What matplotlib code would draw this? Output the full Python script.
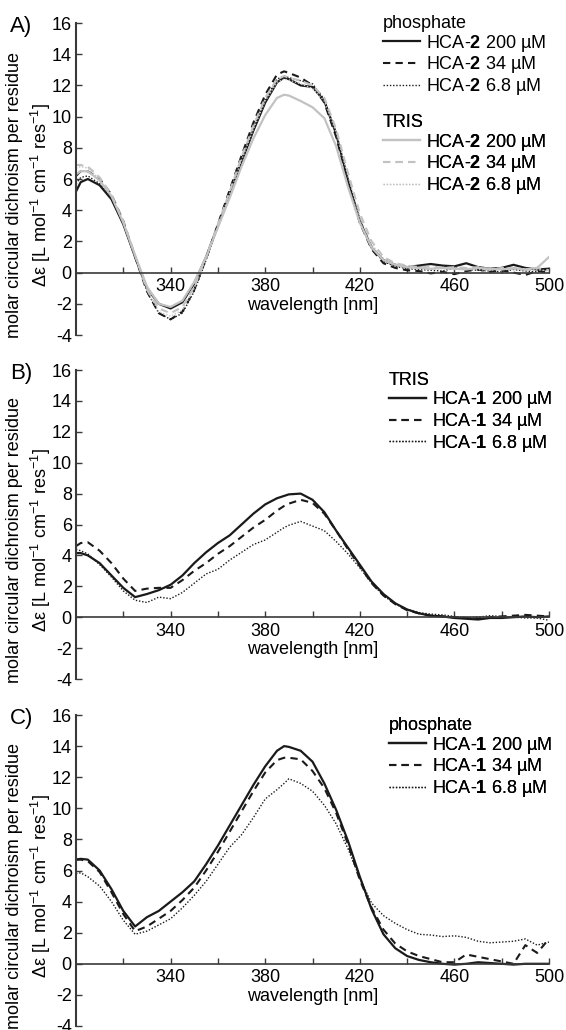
import matplotlib
matplotlib.use("Agg")
import matplotlib.pyplot as plt

plt.rcParams['font.family'] = ['Liberation Sans', 'DejaVu Sans']
plt.rcParams['mathtext.fontset'] = 'custom'
plt.rcParams['mathtext.rm'] = 'Liberation Sans'
plt.rcParams['mathtext.it'] = 'Liberation Sans:italic'
plt.rcParams['mathtext.bf'] = 'Liberation Sans:bold'
plt.rcParams['axes.unicode_minus'] = False

# ---------------- data ----------------
wavelength = [300, 302, 305, 310, 315, 320, 325, 330, 335, 340, 345, 350, 355, 360, 365,
              370, 375, 380, 385, 388, 390, 395, 400, 405, 410, 415, 420, 425, 430, 435,
              440, 445, 450, 455, 460, 465, 470, 475, 480, 485, 490, 495, 500]

# Panel A: HCA-2 in phosphate (black) and TRIS (grey)
a_phos_200 = [5.2, 5.8, 6.0, 5.6, 4.7, 3.1, 1.0, -1.0, -2.0, -2.3, -1.9, -0.7, 1.0, 3.0, 5.0,
              7.1, 9.1, 10.9, 12.2, 12.5, 12.4, 12.0, 11.9, 11.0, 8.9, 5.9, 3.3, 1.6, 0.8, 0.5,
              0.35, 0.45, 0.55, 0.45, 0.4, 0.6, 0.35, 0.25, 0.3, 0.5, 0.3, 0.2, 0.25]
a_phos_34 = [6.2, 6.5, 6.5, 6.0, 5.0, 3.3, 1.0, -1.2, -2.6, -3.0, -2.5, -1.1, 0.9, 3.1, 5.3,
             7.5, 9.6, 11.4, 12.7, 12.9, 12.8, 12.5, 12.0, 10.9, 8.7, 5.8, 3.2, 1.5, 0.6, 0.3,
             0.15, 0.1, -0.05, 0.05, -0.1, 0.1, 0.2, 0.05, 0.15, 0.0, -0.15, 0.1, 0.0]
a_phos_68 = [5.7, 6.1, 6.2, 5.7, 4.8, 3.2, 1.0, -1.2, -2.6, -3.0, -2.6, -1.2, 0.8, 3.0, 5.1,
             7.3, 9.3, 11.1, 12.4, 12.6, 12.5, 12.3, 12.1, 11.1, 8.9, 6.0, 3.4, 1.6, 0.7, 0.4,
             0.25, 0.2, 0.15, 0.1, 0.3, 0.2, 0.15, 0.1, 0.05, 0.2, 0.1, 0.05, 0.2]
a_tris_200 = [6.3, 6.5, 6.5, 5.9, 4.9, 3.2, 1.1, -0.9, -2.0, -2.2, -1.8, -0.6, 1.0, 2.9, 4.8,
              6.8, 8.6, 10.1, 11.2, 11.4, 11.35, 11.0, 10.6, 9.9, 8.1, 5.5, 3.2, 1.6, 0.8, 0.5,
              0.35, 0.3, 0.25, 0.3, 0.25, 0.2, 0.3, 0.25, 0.2, 0.3, 0.2, 0.3, 1.0]
a_tris_34 = [6.9, 6.9, 6.8, 6.1, 5.0, 3.3, 1.1, -1.1, -2.3, -2.6, -2.2, -0.9, 1.0, 3.1, 5.2,
             7.4, 9.4, 11.2, 12.4, 12.6, 12.5, 12.3, 12.0, 11.2, 9.2, 6.4, 3.8, 2.0, 1.0, 0.6,
             0.45, 0.35, 0.4, 0.3, 0.35, 0.3, 0.35, 0.2, 0.3, 0.25, 0.2, 0.3, 0.15]
a_tris_68 = [6.7, 6.8, 6.7, 6.0, 4.9, 3.2, 1.0, -1.1, -2.5, -2.8, -2.4, -1.0, 0.9, 3.0, 5.1,
             7.2, 9.2, 11.0, 12.2, 12.4, 12.35, 12.1, 11.8, 11.0, 9.0, 6.2, 3.6, 1.8, 0.9, 0.5,
             0.3, 0.25, 0.2, 0.25, 0.2, 0.3, 0.2, 0.15, 0.25, 0.2, 0.1, 0.2, 0.1]

# Panel B: HCA-1 in TRIS
b_200 = [4.15, 4.15, 4.0, 3.5, 2.7, 1.9, 1.3, 1.5, 1.75, 2.1, 2.7, 3.5, 4.2, 4.8, 5.3,
         6.0, 6.7, 7.3, 7.7, 7.85, 7.95, 8.0, 7.6, 6.8, 5.6, 4.5, 3.4, 2.3, 1.5, 0.9,
         0.5, 0.25, 0.1, 0.05, -0.05, -0.1, -0.15, -0.05, -0.05, 0.0, 0.05, 0.0, 0.05]
b_34 = [4.6, 4.8, 4.85, 4.3, 3.5, 2.5, 1.7, 1.85, 1.9, 1.9, 2.4, 3.0, 3.5, 4.1, 4.6,
        5.2, 5.8, 6.3, 6.9, 7.2, 7.35, 7.6, 7.4, 6.7, 5.6, 4.4, 3.3, 2.2, 1.4, 0.85,
        0.45, 0.25, 0.1, 0.05, 0.0, -0.05, -0.1, 0.0, 0.05, 0.1, 0.15, 0.1, 0.05]
b_68 = [4.4, 4.3, 4.1, 3.4, 2.6, 1.7, 1.1, 0.95, 1.3, 1.2, 1.6, 2.2, 2.8, 3.1, 3.7,
        4.2, 4.7, 5.0, 5.5, 5.8, 5.95, 6.2, 5.9, 5.6, 4.9, 4.1, 3.2, 2.2, 1.4, 0.85,
        0.5, 0.3, 0.2, 0.15, 0.05, -0.05, 0.0, 0.1, 0.05, 0.0, -0.05, -0.05, -0.2]

# Panel C: HCA-1 in phosphate
c_200 = [6.7, 6.75, 6.7, 6.0, 4.8, 3.4, 2.4, 3.0, 3.4, 4.0, 4.6, 5.3, 6.4, 7.6, 8.9,
         10.2, 11.5, 12.7, 13.7, 14.0, 13.95, 13.7, 13.0, 11.6, 9.9, 7.9, 5.6, 3.5, 1.9, 1.0,
         0.5, 0.25, 0.1, 0.0, -0.05, 0.0, 0.1, 0.05, 0.0, -0.05, 0.0, 0.0, 0.0]
c_34 = [6.7, 6.7, 6.6, 5.9, 4.6, 3.2, 2.1, 2.4, 2.9, 3.4, 4.1, 4.9, 6.0, 7.2, 8.5,
        9.8, 11.1, 12.3, 13.1, 13.25, 13.25, 13.15, 12.4, 11.3, 9.7, 7.7, 5.4, 3.6, 2.2, 1.3,
        0.8, 0.5, 0.3, 0.1, 0.1, 0.6, 0.45, 0.3, 0.15, 0.0, 1.2, 0.7, 1.6]
c_68 = [5.8, 5.85, 5.6, 5.0, 4.0, 2.8, 1.9, 2.1, 2.5, 2.9, 3.6, 4.4, 5.3, 6.4, 7.5,
        8.3, 9.4, 10.6, 11.2, 11.6, 11.9, 11.6, 11.1, 10.2, 9.0, 7.4, 5.5, 3.9, 3.1, 2.6,
        2.2, 1.9, 1.85, 1.75, 1.8, 1.7, 1.45, 1.35, 1.4, 1.45, 1.6, 1.2, 1.4]

conc_labels = ["200 µM", "34 µM", "6.8 µM"]
x_major = [340, 380, 420, 460, 500]
x_minor = [320, 360, 400, 440, 480]
y_ticks = [-4, -2, 0, 2, 4, 6, 8, 10, 12, 14, 16]

# ---------------- styles ----------------
FS = 13
BLACK = '#1a1a1a'
GREY = '#c2c2c2'
SPINE = '#3a3a3a'
styles = [dict(ls='-', lw=1.6), dict(ls=(0, (3.5, 2.5)), lw=1.5), dict(ls=(0, (1, 1.3)), lw=1.0)]

W, H = 566, 1030
fig = plt.figure(figsize=(W / 100, H / 100), dpi=100)

def px_axes(top, bottom, left=76, right=549):
    return [left / W, 1 - bottom / H, (right - left) / W, (bottom - top) / H]

def setup(ax, letter):
    ax.set_xlim(300, 500)
    ax.set_ylim(-4, 16)
    for s in ['top', 'right']:
        ax.spines[s].set_visible(False)
    ax.spines['bottom'].set_position(('data', 0))
    ax.spines['bottom'].set_color(SPINE)
    ax.spines['bottom'].set_linewidth(1.2)
    ax.spines['left'].set_color(SPINE)
    ax.spines['left'].set_linewidth(1.5)
    ax.set_xticks(x_major)
    ax.set_xticks(x_minor, minor=True)
    ax.set_yticks(y_ticks)
    ax.tick_params(axis='x', which='both', direction='in', length=4, width=1.0,
                   color=SPINE, labelsize=FS, pad=4)
    ax.tick_params(axis='y', direction='in', length=4, width=1.0, color=SPINE,
                   labelsize=FS, pad=3)
    ax.set_xlabel('wavelength [nm]', fontsize=FS, labelpad=1)
    ax.text(-0.129, 0.449, 'molar circular dichroism per residue', transform=ax.transAxes,
            rotation=90, ha='center', va='center', fontsize=FS)
    ax.text(-0.074, 0.449, 'Δε [L mol$^{-1}$ cm$^{-1}$ res$^{-1}$]',
            transform=ax.transAxes, rotation=90, ha='center', va='center', fontsize=FS)
    ax.text(-0.1395, 0.99, letter, transform=ax.transAxes, ha='left', va='center',
            fontsize=16)

def add_legend(ax, handles, compound, title, anchor):
    labels = [f"HCA-$\\mathbf{{{compound}}}$ {c}" for c in conc_labels]
    leg = ax.legend(handles, labels, title=title, loc='upper left', bbox_to_anchor=anchor,
                    frameon=False, fontsize=FS, title_fontsize=FS, alignment='left',
                    handlelength=2.05, handletextpad=0.35, labelspacing=0.04,
                    borderpad=0, borderaxespad=0)
    ax.add_artist(leg)
    return leg

# Panel A
axA = fig.add_axes(px_axes(23, 335))
setup(axA, 'A)')
hp = []
for ys, st in zip([a_phos_200, a_phos_34, a_phos_68], styles):
    hp += axA.plot(wavelength, ys, color=BLACK, **st)
ht = []
for ys, st in zip([a_tris_200, a_tris_34, a_tris_68], styles):
    ht += axA.plot(wavelength, ys, color=GREY, **st)
add_legend(axA, hp, '2', 'phosphate', (0.649, 1.026))
add_legend(axA, ht, '2', 'TRIS', (0.649, 0.709))

# Panel B
axB = fig.add_axes(px_axes(370, 679))
setup(axB, 'B)')
hb = []
for ys, st in zip([b_200, b_34, b_68], styles):
    hb += axB.plot(wavelength, ys, color=BLACK, **st)
add_legend(axB, hb, '1', 'TRIS', (0.661, 0.995))

# Panel C
axC = fig.add_axes(px_axes(715, 1026))
setup(axC, 'C)')
hc = []
for ys, st in zip([c_200, c_34, c_68], styles):
    hc += axC.plot(wavelength, ys, color=BLACK, **st)
add_legend(axC, hc, '1', 'phosphate', (0.661, 0.994))

fig.savefig('out.png', dpi=100)
